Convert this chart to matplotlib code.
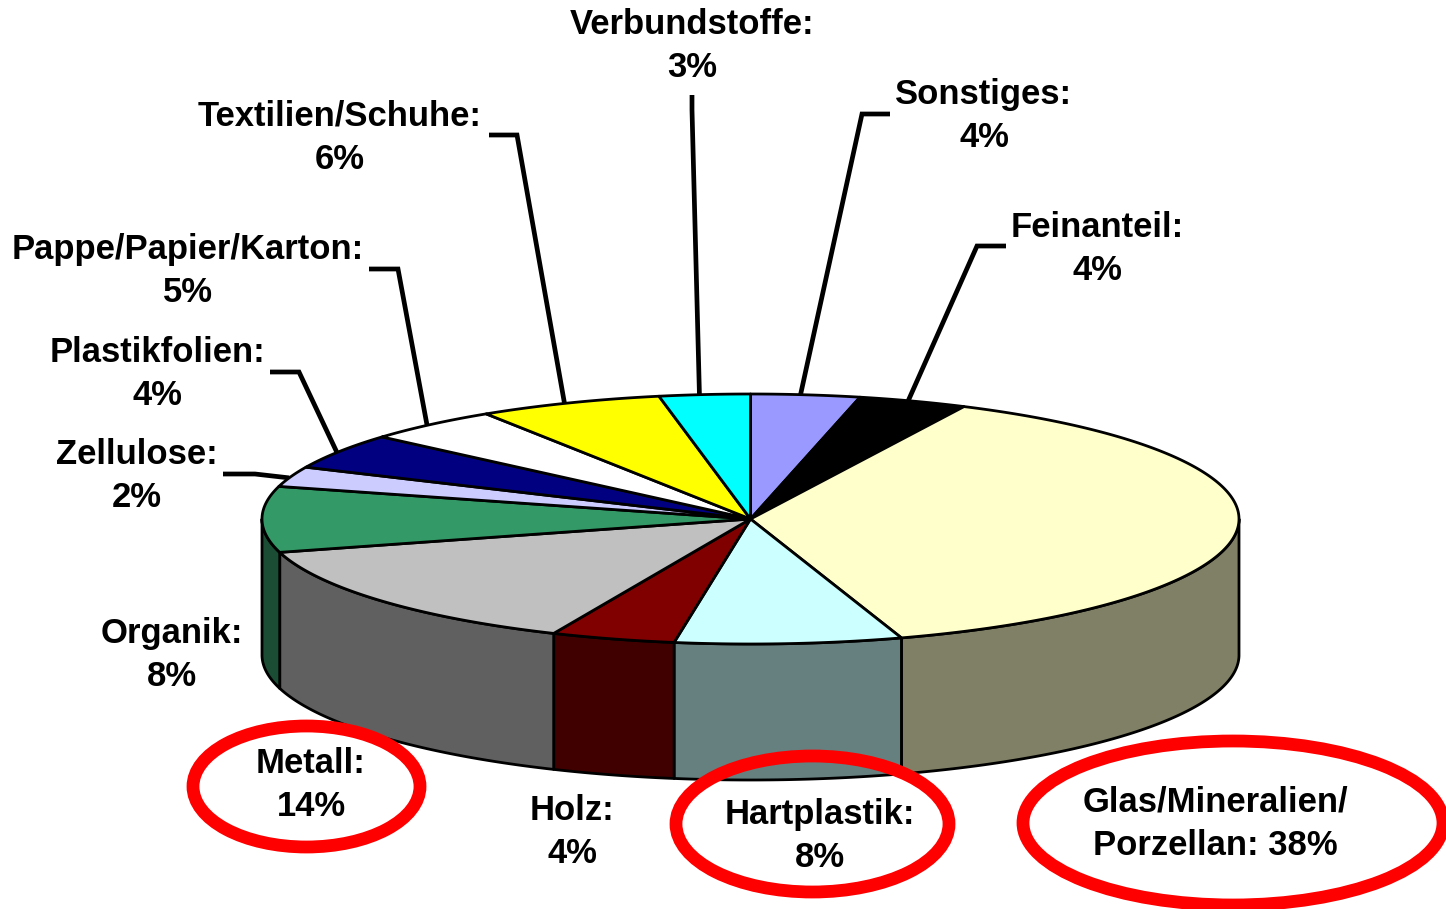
import numpy as np
import matplotlib.pyplot as plt
from matplotlib.patches import Ellipse, Polygon

# clockwise from 12 o'clock
names = ["Sonstiges:", "Feinanteil:", "Glas/Mineralien/\nPorzellan:", "Hartplastik:", "Holz:", "Metall:",
         "Organik:", "Zellulose:", "Plastikfolien:", "Pappe/Papier/Karton:", "Textilien/Schuhe:", "Verbundstoffe:"]
labels = ["4%", "4%", "38%", "8%", "4%", "14%", "8%", "2%", "4%", "5%", "6%", "3%"]
# slice shares as drawn in the picture
shares = [3.6, 3.6, 37.8, 7.5, 4.1, 14.1, 8.5, 2.6, 4.6, 4.5, 6.1, 3.0]
colors = ["#9999FF", "#000000", "#FFFFCC", "#CCFFFF", "#800000", "#C0C0C0",
          "#339966", "#CCCCFF", "#000080", "#FFFFFF", "#FFFF00", "#00FFFF"]
sides = ["#4D4D80", "#000000", "#808066", "#668080", "#400000", "#606060",
         "#1A4D33", "#666680", "#000040", "#808080", "#808000", "#008080"]

# label centres, in pixels
label_pos = [(984, 116), (1097, 249), (1215, 824), (820, 836), (572, 832), (311, 785),
             (172, 655), (137, 476), (157, 374), (188, 271), (340, 138), (692, 46)]
# leader lines: elbow and end, None = no line
leaders = [[(862, 114), (890, 114)], [(977, 246), (1006, 246)], None, None, None, None,
           None, [(255, 474), (223, 474)], [(299, 372), (270, 372)], [(398, 269), (369, 269)],
           [(517, 135), (489, 135)], [(692, 110), (692, 95)]]
rings = [(306.5, 786.5, 227, 121), (812.5, 824, 273, 136), (1233, 823, 420, 164)]

cx, cy, rx, ry, depth = 750.5, 519, 488.5, 125, 136


def rim(a, b, drop=0):
    t = np.radians(np.linspace(a, b, max(int(abs(b - a) * 2), 2)))
    return np.column_stack([cx + rx * np.sin(t), cy - ry * np.cos(t) + drop])


fig = plt.figure(figsize=(14.46, 9.09), dpi=100)
ax = fig.add_axes([0, 0, 1, 1])
ax.set_xlim(0, 1446)
ax.set_ylim(909, 0)
ax.axis("off")
plt.rcParams['font.family'] = ['Liberation Sans', 'DejaVu Sans']

edges = np.cumsum([0] + shares) * 3.6

# side walls, only the front half shows
for i in range(len(shares)):
    a, b = max(edges[i], 90), min(edges[i + 1], 270)
    if a < b:
        wall = np.vstack([rim(a, b), rim(a, b, depth)[::-1]])
        ax.add_patch(Polygon(wall, closed=True, fc=sides[i], ec="k", lw=2.0, joinstyle="round", zorder=1))

# top slices
for i in range(len(shares)):
    top = np.vstack([[cx, cy], rim(edges[i], edges[i + 1])])
    ax.add_patch(Polygon(top, closed=True, fc=colors[i], ec="k", lw=2.0, joinstyle="round", zorder=2))

for i, lead in enumerate(leaders):
    if lead is None:
        continue
    mid = np.radians((edges[i] + edges[i + 1]) / 2 - 0.6)
    xs = [cx + rx * np.sin(mid)] + [p[0] for p in lead]
    ys = [cy - ry * np.cos(mid)] + [p[1] for p in lead]
    ax.plot(xs, ys, color="k", lw=3.4, solid_joinstyle="miter", solid_capstyle="butt", zorder=1.5)

for x, y, w, h in rings:
    ax.add_patch(Ellipse((x, y), w, h, fc="none", ec="#FF0000", lw=9.2, zorder=3, clip_on=True))

for i in range(len(names)):
    sep = " " if "\n" in names[i] else "\n"
    ax.text(label_pos[i][0], label_pos[i][1], names[i] + sep + labels[i], ha="center", va="center",
            fontsize=24.9, fontweight="bold", linespacing=1.41, color="k", zorder=4)

fig.savefig("out.png", dpi=100)
plt.close()
